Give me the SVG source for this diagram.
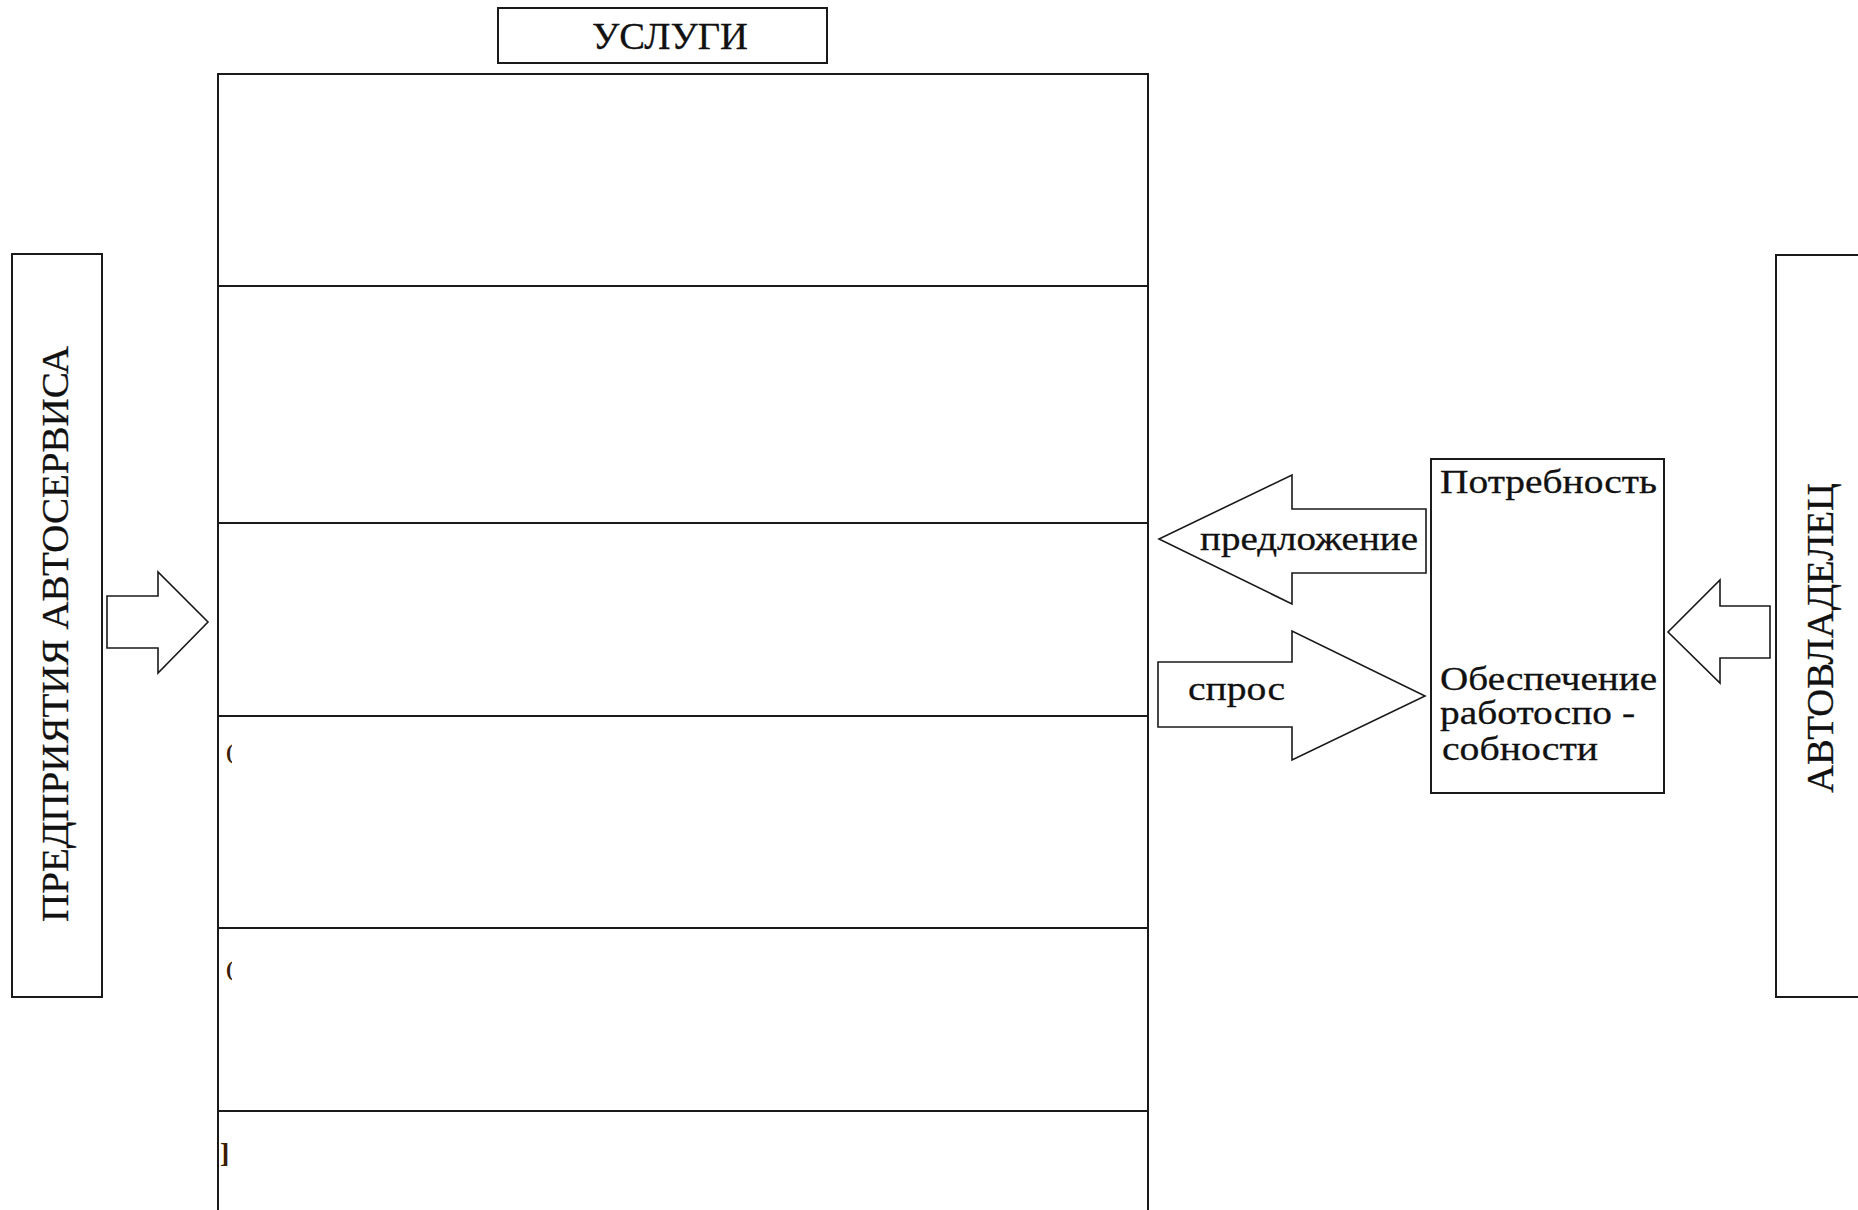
<svg xmlns="http://www.w3.org/2000/svg" width="1858" height="1210" viewBox="0 0 1858 1210">
  <style>
    .box { fill: #ffffff; stroke: #1a1a1a; stroke-width: 2; }
    .line { stroke: #1a1a1a; stroke-width: 2.2; fill: none; }
    .arrow { fill: #ffffff; stroke: #1a1a1a; stroke-width: 1.6; stroke-linejoin: miter; }
    .t { font-family: "Liberation Serif", "Times New Roman", serif; fill: #111111; stroke: #111111; stroke-width: 0.3; }
    .frag { font-family: "Liberation Serif", "Times New Roman", serif; fill: #3a1c05; font-weight: bold; }
  </style>
  <defs>
    <clipPath id="fragclip">
      <rect x="219" y="74" width="13" height="1140"/>
    </clipPath>
  </defs>
  <rect x="0" y="0" width="1858" height="1210" fill="#ffffff"/>

  <g id="uslugi-title">
    <rect class="box" x="498" y="8" width="329" height="55"/>
    <text class="t" x="670" y="49" font-size="38" text-anchor="middle" textLength="156" lengthAdjust="spacingAndGlyphs">УСЛУГИ</text>
  </g>

  <g id="uslugi-table">
    <rect class="box" x="218" y="74" width="930" height="1160"/>
    <line class="line" x1="218" y1="286" x2="1148" y2="286"/>
    <line class="line" x1="218" y1="523" x2="1148" y2="523"/>
    <line class="line" x1="218" y1="716" x2="1148" y2="716"/>
    <line class="line" x1="218" y1="928" x2="1148" y2="928"/>
    <line class="line" x1="218" y1="1111" x2="1148" y2="1111"/>
    <g clip-path="url(#fragclip)">
      <text class="frag" x="226" y="759" font-size="22">(</text>
      <text class="frag" x="226" y="976" font-size="22">(</text>
      <text class="frag" x="220" y="1162" font-size="28">]</text>
    </g>
  </g>

  <g id="predpriyatiya">
    <rect class="box" x="12" y="254" width="90" height="743"/>
    <text class="t" font-size="37" text-anchor="middle" transform="translate(68 634) rotate(-90)" textLength="576" lengthAdjust="spacingAndGlyphs">ПРЕДПРИЯТИЯ АВТОСЕРВИСА</text>
  </g>

  <g id="avtovladelec">
    <rect class="box" x="1776" y="255" width="100" height="742"/>
    <text class="t" font-size="37" text-anchor="middle" transform="translate(1833 638) rotate(-90)" textLength="310" lengthAdjust="spacingAndGlyphs">АВТОВЛАДЕЛЕЦ</text>
  </g>

  <g id="potrebnost">
    <rect class="box" x="1431" y="459" width="233" height="334"/>
    <text class="t" x="1440" y="493" font-size="34" textLength="217" lengthAdjust="spacingAndGlyphs">Потребность</text>
    <text class="t" x="1440" y="690" font-size="34" textLength="217" lengthAdjust="spacingAndGlyphs">Обеспечение</text>
    <text class="t" x="1440" y="724" font-size="34" textLength="195" lengthAdjust="spacingAndGlyphs">работоспо -</text>
    <text class="t" x="1442" y="760" font-size="34" textLength="156" lengthAdjust="spacingAndGlyphs">собности</text>
  </g>

  <g id="connectors">
    <polygon class="arrow" points="107,596 158,596 158,572 208,622 158,673 158,648 107,648"/>
    <g id="arrow-predlozhenie">
      <polygon class="arrow" points="1426,509 1292,509 1292,475 1159,539 1292,604 1292,573 1426,573"/>
      <text class="t" x="1200" y="550" font-size="34" textLength="218" lengthAdjust="spacingAndGlyphs">предложение</text>
    </g>
    <g id="arrow-spros">
      <polygon class="arrow" points="1158,662 1292,662 1292,631 1425,696 1292,760 1292,727 1158,727"/>
      <text class="t" x="1188" y="700" font-size="34" textLength="97" lengthAdjust="spacingAndGlyphs">спрос</text>
    </g>
    <polygon class="arrow" points="1770,606 1720,606 1720,580 1668,632 1720,683 1720,658 1770,658"/>
  </g>
</svg>
